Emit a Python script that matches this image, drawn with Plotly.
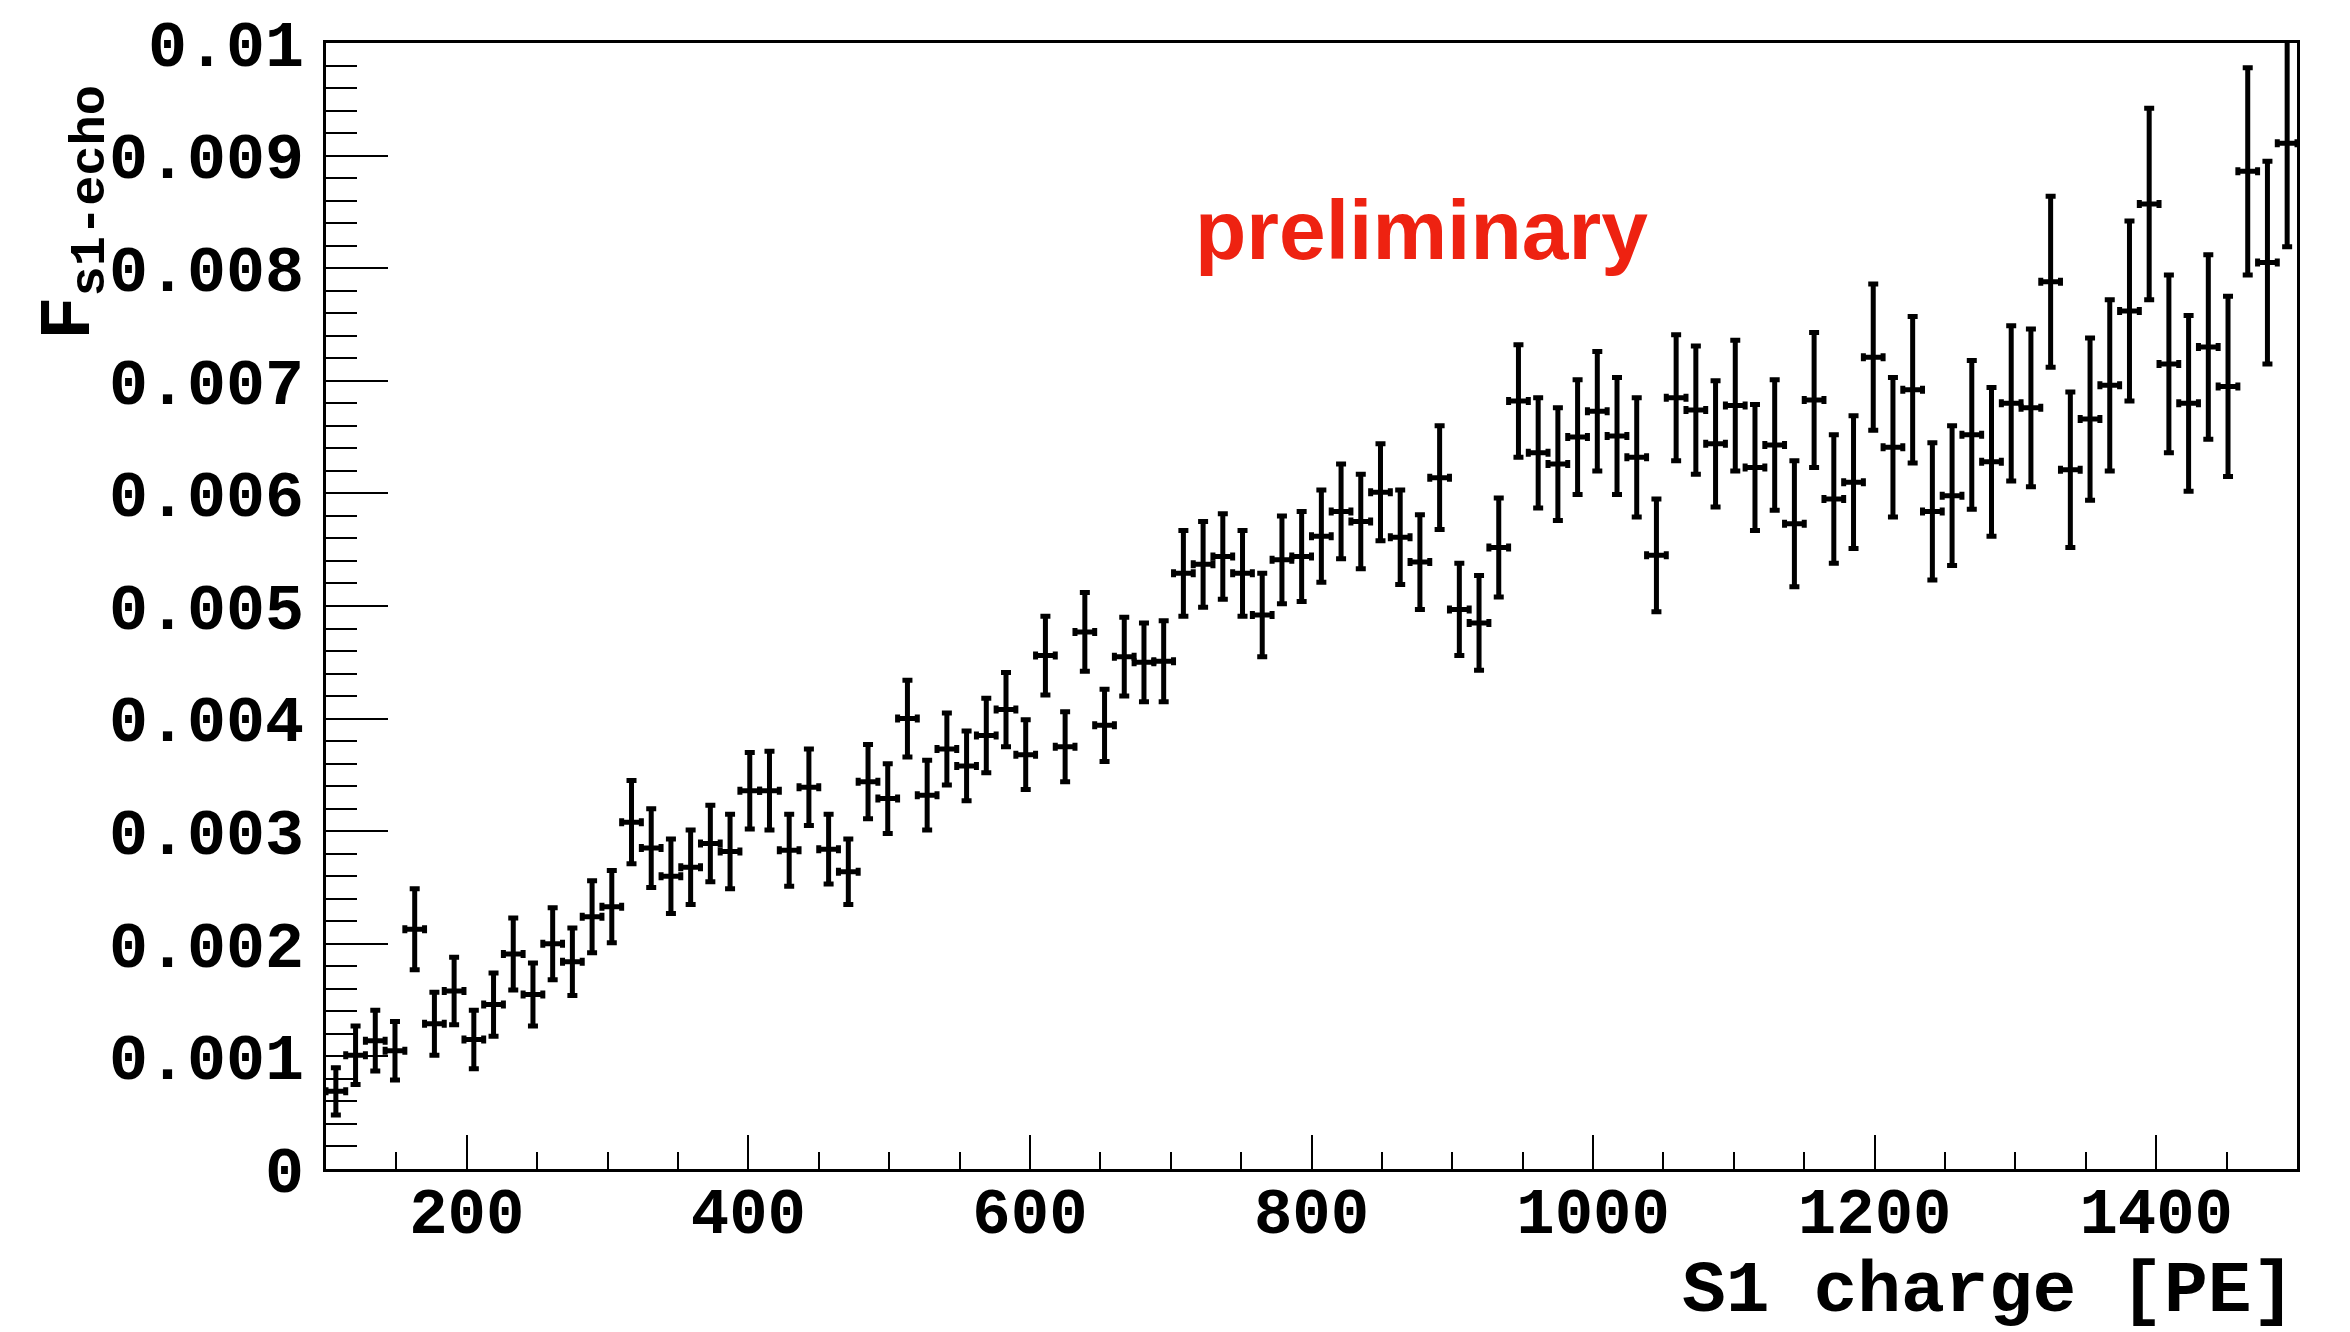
import plotly.graph_objects as go

# Bin layout: 100 bins of width 14 PE from 100 to 1500 PE
bin_low = 100
bin_width = 14
n_bins = 100
s1_charge = [bin_low + bin_width * (i + 0.5) for i in range(n_bins)]
x_half_width = [bin_width / 2] * n_bins

# F_s1-echo values and errors, in units of 1e-3
f_echo_e3 = [
    0.69, 1.01, 1.14, 1.05, 2.13, 1.29, 1.58, 1.15, 1.46, 1.91,
    1.55, 2.00, 1.84, 2.24, 2.33, 3.08, 2.85, 2.60, 2.68, 2.89,
    2.82, 3.36, 3.36, 2.83, 3.39, 2.84, 2.64, 3.44, 3.29, 4.00,
    3.32, 3.73, 3.58, 3.85, 4.08, 3.68, 4.56, 3.75, 4.77, 3.94,
    4.55, 4.50, 4.51, 5.29, 5.37, 5.44, 5.29, 4.92, 5.41, 5.44,
    5.62, 5.84, 5.75, 6.01, 5.61, 5.39, 6.14, 4.97, 4.85, 5.52,
    6.82, 6.36, 6.26, 6.50, 6.73, 6.51, 6.32, 5.45, 6.85, 6.74,
    6.44, 6.78, 6.23, 6.43, 5.73, 6.83, 5.95, 6.10, 7.21, 6.41,
    6.92, 5.84, 5.98, 6.52, 6.28, 6.80, 6.76, 7.88, 6.21, 6.66,
    6.96, 7.62, 8.57, 7.15, 6.80, 7.30, 6.95, 8.86, 8.05, 9.11,
]
f_err_e3 = [
    0.21, 0.26, 0.27, 0.26, 0.36, 0.28, 0.30, 0.26, 0.28, 0.32,
    0.28, 0.32, 0.30, 0.32, 0.32, 0.37, 0.35, 0.33, 0.33, 0.34,
    0.33, 0.34, 0.35, 0.32, 0.34, 0.31, 0.29, 0.33, 0.31, 0.34,
    0.31, 0.32, 0.31, 0.33, 0.33, 0.31, 0.35, 0.31, 0.35, 0.32,
    0.35, 0.35, 0.36, 0.38, 0.38, 0.38, 0.38, 0.37, 0.39, 0.40,
    0.41, 0.42, 0.42, 0.43, 0.42, 0.42, 0.46, 0.41, 0.42, 0.44,
    0.50, 0.49, 0.50, 0.51, 0.53, 0.52, 0.53, 0.50, 0.56, 0.57,
    0.56, 0.58, 0.56, 0.58, 0.56, 0.60, 0.57, 0.59, 0.65, 0.62,
    0.65, 0.61, 0.62, 0.66, 0.66, 0.69, 0.70, 0.76, 0.69, 0.72,
    0.76, 0.80, 0.85, 0.79, 0.78, 0.82, 0.80, 0.92, 0.90, 0.92,
]
f_echo = [v * 1e-3 for v in f_echo_e3]
f_err = [v * 1e-3 for v in f_err_e3]

x_tickvals = [200, 400, 600, 800, 1000, 1200, 1400]
y_tickvals = [0, 0.001, 0.002, 0.003, 0.004, 0.005, 0.006, 0.007, 0.008, 0.009, 0.01]
y_ticktext = ["0", "0.001", "0.002", "0.003", "0.004", "0.005", "0.006",
              "0.007", "0.008", "0.009", "0.01"]

MONO = "Liberation Mono, DejaVu Sans Mono, monospace"

fig = go.Figure()
fig.add_trace(go.Scatter(
    x=s1_charge, y=f_echo, mode="markers",
    marker=dict(size=4, color="black"),
    error_y=dict(type="data", array=f_err, color="black", thickness=5, width=5),
    error_x=dict(type="data", array=x_half_width, color="black", thickness=5, width=4),
    showlegend=False, cliponaxis=True,
))

fig.update_layout(
    width=2350, height=1332,
    margin=dict(l=326, r=53, t=38, b=163),
    paper_bgcolor="white", plot_bgcolor="white",
    xaxis=dict(
        range=[100, 1500], tickvals=x_tickvals,
        ticks="inside", ticklen=34, tickwidth=2, tickcolor="black",
        minor=dict(ticks="inside", ticklen=17, tickwidth=2, tickcolor="black",
                   dtick=50, tick0=100),
        showline=True, mirror=True, linecolor="black", linewidth=3,
        showgrid=False, zeroline=False,
        tickfont=dict(family=MONO, size=64, color="black", weight="bold"),
        ticklabelstandoff=-16,
    ),
    yaxis=dict(
        range=[0, 0.01], tickvals=y_tickvals, ticktext=y_ticktext,
        ticks="inside", ticklen=62, tickwidth=2, tickcolor="black",
        minor=dict(ticks="inside", ticklen=31, tickwidth=2, tickcolor="black",
                   dtick=0.0002, tick0=0),
        showline=True, mirror=True, linecolor="black", linewidth=3,
        showgrid=False, zeroline=False,
        tickfont=dict(family=MONO, size=65, color="black", weight="bold"),
        ticklabelstandoff=6,
    ),
    annotations=[
        dict(text="<b>S1 charge [PE]</b>", xref="paper", yref="paper",
             x=1.0, y=-0.1088, xanchor="right", yanchor="middle", showarrow=False,
             font=dict(family=MONO, size=73, color="black")),
        dict(text="<b>F<sub>s1-echo</sub></b>", xref="paper", yref="paper",
             x=-0.1279, y=0.850, xanchor="center", yanchor="middle", showarrow=False,
             textangle=-90,
             font=dict(family=MONO, size=72, color="black")),
        dict(text="<b>preliminary</b>", xref="paper", yref="paper",
             x=0.5558, y=0.834, xanchor="center", yanchor="middle", showarrow=False,
             font=dict(family="Liberation Sans, Arial, sans-serif", size=84, color="#EE2211")),
    ],
)

fig.write_html("out.html")
